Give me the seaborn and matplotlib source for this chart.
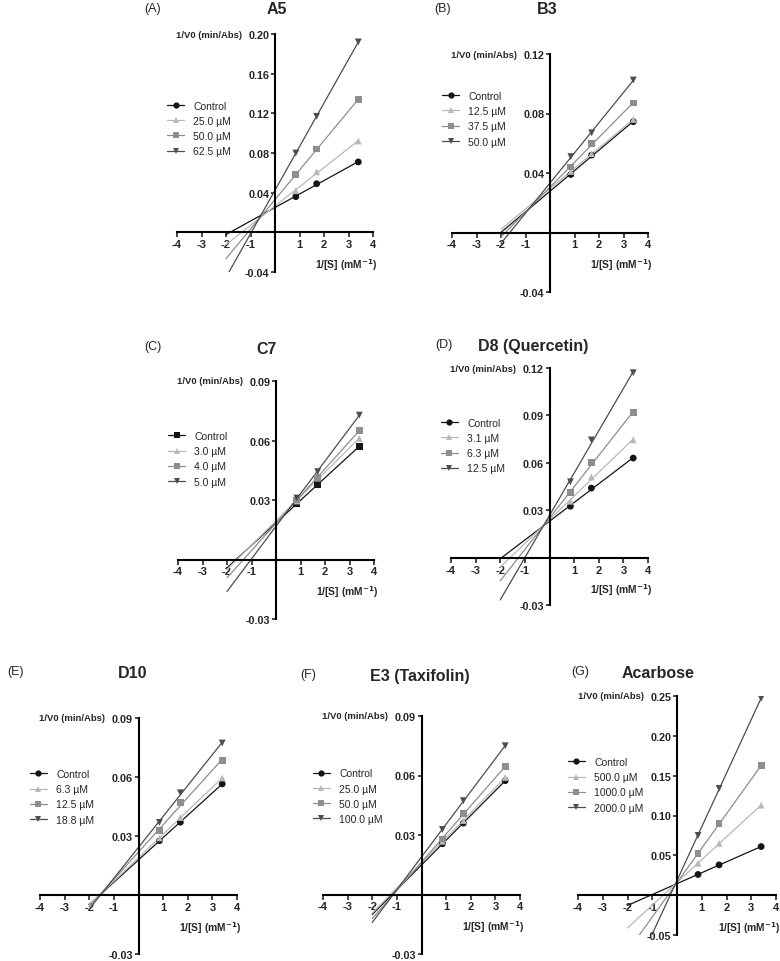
import numpy as np
import pandas as pd
import seaborn as sns
import matplotlib.pyplot as plt
from matplotlib.lines import Line2D

# 1/[S] values (mM^-1) used in every panel
inv_s = [0.85, 1.7, 3.4]

# --- A5 ---
a5_labels = ['Control', '25.0 µM', '50.0 µM', '62.5 µM']
a5_values = [[0.036, 0.049, 0.071],
             [0.042, 0.061, 0.092],
             [0.058, 0.084, 0.134],
             [0.080, 0.117, 0.192]]

# --- B3 ---
b3_labels = ['Control', '12.5 µM', '37.5 µM', '50.0 µM']
b3_values = [[0.039, 0.052, 0.0745],
             [0.041, 0.053, 0.076],
             [0.044, 0.060, 0.087],
             [0.051, 0.067, 0.1025]]

# --- C7 ---
c7_labels = ['Control', '3.0 µM', '4.0 µM', '5.0 µM']
c7_values = [[0.028, 0.038, 0.057],
             [0.0295, 0.041, 0.061],
             [0.030, 0.0415, 0.065],
             [0.031, 0.0443, 0.0728]]

# --- D8 (Quercetin) ---
d8_labels = ['Control', '3.1 µM', '6.3 µM', '12.5 µM']
d8_values = [[0.0325, 0.044, 0.063],
             [0.0357, 0.051, 0.0745],
             [0.041, 0.060, 0.092],
             [0.048, 0.0745, 0.117]]

# --- D10 ---
d10_labels = ['Control', '6.3 µM', '12.5 µM', '18.8 µM']
d10_values = [[0.0276, 0.037, 0.0565],
              [0.029, 0.0394, 0.0595],
              [0.0326, 0.047, 0.0685],
              [0.0369, 0.052, 0.0773]]

# --- E3 (Taxifolin) ---
e3_labels = ['Control', '25.0 µM', '50.0 µM', '100.0 µM']
e3_values = [[0.0256, 0.036, 0.0574],
             [0.0268, 0.0373, 0.059],
             [0.028, 0.041, 0.0644],
             [0.0328, 0.0473, 0.075]]

# --- Acarbose ---
acarbose_labels = ['Control', '500.0 µM', '1000.0 µM', '2000.0 µM']
acarbose_values = [[0.026, 0.038, 0.061],
                   [0.040, 0.065, 0.113],
                   [0.052, 0.090, 0.1625],
                   [0.075, 0.134, 0.247]]

sns.set_style('white')
plt.rcParams['font.family'] = ['Liberation Sans', 'DejaVu Sans']

W, H = 780, 962
fig = plt.figure(figsize=(W / 100, H / 100), dpi=100)

colors = ['#151515', '#b8b8b8', '#8e8e8e', '#4d4d4d']
markers = ['o', '^', 's', 'v']


def px_rect(left, top, right, bottom):
    return [left / W, 1 - bottom / H, (right - left) / W, (bottom - top) / H]


def panel(rect, labels, values, ylim, ystep, title, letter, title_xy, letter_xy,
          leg_y, ctrl_marker='o'):
    ax = fig.add_axes(px_rect(*rect))
    mk = [ctrl_marker] + markers[1:]
    rows = []
    for lab, vals in zip(labels, values):
        for x, y in zip(inv_s, vals):
            rows.append({'x': x, 'y': y, 'series': lab})
    df = pd.DataFrame(rows)
    sns.scatterplot(data=df, x='x', y='y', hue='series', style='series',
                    palette=dict(zip(labels, colors)),
                    markers=dict(zip(labels, mk)),
                    s=24, linewidth=0, legend=False, ax=ax, zorder=3)
    # linear fits extended toward negative 1/[S]
    xs = np.array([-2.0, inv_s[-1]])
    for lab, vals, c in zip(labels, values, colors):
        k, b = np.polyfit(inv_s, vals, 1)
        ax.plot(xs, k * xs + b, color=c, lw=0.9, zorder=2)

    ax.set_xlim(-4, 4)
    ax.set_ylim(*ylim)
    for s in ['top', 'right']:
        ax.spines[s].set_visible(False)
    ax.spines['left'].set_position(('data', 0))
    ax.spines['bottom'].set_position(('data', 0))
    for s in ['left', 'bottom']:
        ax.spines[s].set_linewidth(1.5)
        ax.spines[s].set_color('black')

    xt = list(range(-4, 5))
    ax.set_xticks(xt)
    ax.set_xticklabels(['' if v == 0 else str(v) for v in xt],
                       fontweight='bold', fontsize=8)
    yt = np.round(np.arange(ylim[0], ylim[1] + ystep / 2, ystep), 4)
    ax.set_yticks(yt)
    ax.set_yticklabels(['' if abs(v) < 1e-9 else f'{v:.2f}' for v in yt],
                       fontweight='bold', fontsize=7.8)
    ax.tick_params(axis='x', direction='out', length=3.5, width=1.2, pad=1.5,
                   bottom=True)
    ax.tick_params(axis='y', direction='out', length=3, width=1.2, pad=1,
                   left=True)
    ax.set_xlabel('')
    ax.set_ylabel('')
    ax.patch.set_alpha(0)

    ax.annotate('1/V0 (min/Abs)', xy=(0, ylim[1]), xycoords='data',
                xytext=(-24, 0), textcoords='offset points', ha='right',
                va='center', fontsize=6.8, fontweight='bold')
    ax.annotate(r'1/[S] (mM$^{\mathbf{-1}}$)', xy=(4, 0), xycoords='data',
                xytext=(3, -23), textcoords='offset points', ha='right',
                va='center', fontsize=7.4, fontweight='bold')

    handles = [Line2D([], [], color=c, marker=m, markersize=4.5, lw=0.9,
                      markeredgewidth=0)
               for c, m in zip(colors, mk)]
    ax.legend(handles, labels, loc='upper left', bbox_to_anchor=(-0.05, leg_y),
              frameon=False, fontsize=7.5, handlelength=1.6, handletextpad=0.9,
              labelspacing=0.5, borderpad=0, borderaxespad=0)

    fig.text(title_xy[0] / W, 1 - title_xy[1] / H, title, ha='center',
             va='center', fontsize=11.5, fontweight='bold')
    fig.text(letter_xy[0] / W, 1 - letter_xy[1] / H, letter, ha='center',
             va='center', fontsize=9)
    return ax


panel((177, 35, 373, 273), a5_labels, a5_values, (-0.04, 0.20), 0.04,
      'A5', '(A)', (277, 9), (153, 9), 0.72)
panel((452, 55, 648, 293), b3_labels, b3_values, (-0.04, 0.12), 0.04,
      'B3', '(B)', (547, 9), (443, 9), 0.845)
panel((178, 382, 374, 620), c7_labels, c7_values, (-0.03, 0.09), 0.03,
      'C7', '(C)', (267, 350), (153, 347), 0.79, ctrl_marker='s')
panel((451, 369, 648, 606), d8_labels, d8_values, (-0.03, 0.12), 0.03,
      'D8 (Quercetin)', '(D)', (533, 347), (444, 345), 0.79)
panel((40, 719, 237, 955), d10_labels, d10_values, (-0.03, 0.09), 0.03,
      'D10', '(E)', (133, 673), (15, 672), 0.784)
panel((323, 717, 520, 955), e3_labels, e3_values, (-0.03, 0.09), 0.03,
      'E3 (Taxifolin)', '(F)', (420, 677), (308, 675), 0.78)
panel((578, 697, 776, 936), acarbose_labels, acarbose_values, (-0.05, 0.25), 0.05,
      'Acarbose', '(G)', (658, 673), (580, 672), 0.745)

fig.savefig('out.png', dpi=100)
